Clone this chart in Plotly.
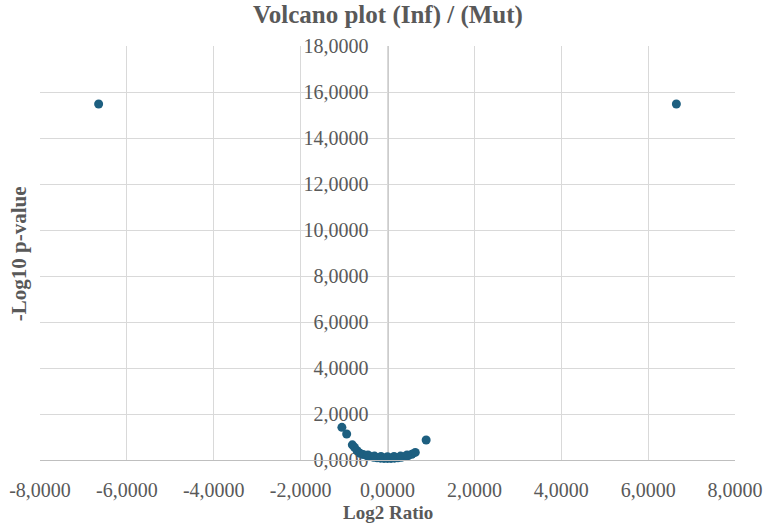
import plotly.graph_objects as go

# Data (Log2 ratio, -Log10 p-value)
log2_ratio = [-6.65, 6.65,
              -1.05, -0.94, -0.81, -0.76, -0.70, -0.63,
              -0.56, -0.48, -0.40, -0.32, -0.24, -0.16, -0.08, 0.00,
              0.08, 0.16, 0.24, 0.32, 0.40, 0.48, 0.56, 0.64,
              -0.45, -0.30, -0.15, 0.00, 0.15, 0.30, 0.45,
              0.89]
neg_log10_p = [15.48, 15.48,
               1.42, 1.13, 0.66, 0.55, 0.40, 0.29,
               0.24, 0.19, 0.15, 0.12, 0.10, 0.08, 0.07, 0.07,
               0.07, 0.08, 0.10, 0.12, 0.15, 0.19, 0.25, 0.33,
               0.22, 0.17, 0.15, 0.14, 0.15, 0.17, 0.22,
               0.87]

x_ticks = [-8, -6, -4, -2, 0, 2, 4, 6, 8]
x_tick_labels = ["-8,0000", "-6,0000", "-4,0000", "-2,0000", "0,0000",
                 "2,0000", "4,0000", "6,0000", "8,0000"]
y_ticks = [0, 2, 4, 6, 8, 10, 12, 14, 16, 18]
y_tick_labels = ["0,0000", "2,0000", "4,0000", "6,0000", "8,0000",
                 "10,0000", "12,0000", "14,0000", "16,0000", "18,0000"]

FONT = "Liberation Serif"
TXT = "#595959"
GRID = "#d9d9d9"
AXIS = "#bfbfbf"
MARK = "#1d5f80"

fig = go.Figure()
fig.add_trace(go.Scatter(
    x=log2_ratio, y=neg_log10_p, mode="markers",
    marker=dict(color=MARK, size=9, line=dict(width=0)),
    showlegend=False, cliponaxis=False,
))

fig.update_layout(
    width=768, height=524,
    margin=dict(l=40, r=33, t=46, b=64, autoexpand=False),
    paper_bgcolor="white", plot_bgcolor="white",
    font=dict(family=FONT, color=TXT),
    xaxis=dict(
        range=[-8, 8], tickvals=x_ticks, ticktext=x_tick_labels,
        showgrid=True, gridcolor=GRID, gridwidth=1, automargin=False,
        zeroline=False, showline=True, linecolor=AXIS, linewidth=1,
        ticks="", ticklabelstandoff=12,
        tickfont=dict(family=FONT, size=20, color=TXT),
    ),
    yaxis=dict(
        range=[0, 18], tickvals=y_ticks, ticktext=y_tick_labels,
        showgrid=True, gridcolor=GRID, gridwidth=1, automargin=False,
        zeroline=False, showline=True, linecolor="#cccccc", linewidth=1,
        anchor="free", position=0.5, layer="below traces",
        ticks="", ticklabelstandoff=15,
        tickfont=dict(family=FONT, size=20, color=TXT),
    ),
    annotations=[
        dict(text="<b>Volcano plot (Inf) / (Mut)</b>", xref="paper", yref="paper",
             x=0.5, y=1.074, xanchor="center", yanchor="middle", showarrow=False,
             font=dict(family=FONT, size=25, color=TXT)),
        dict(text="<b>Log2 Ratio</b>", xref="paper", yref="paper",
             x=0.5, y=-0.126, xanchor="center", yanchor="middle", showarrow=False,
             font=dict(family=FONT, size=19, color=TXT)),
        dict(text="<b>-Log10 p-value</b>", xref="paper", yref="paper",
             x=-0.031, y=0.498, xanchor="center", yanchor="middle", showarrow=False,
             textangle=-90, font=dict(family=FONT, size=21, color=TXT)),
    ],
)

fig.write_html("out.html")
